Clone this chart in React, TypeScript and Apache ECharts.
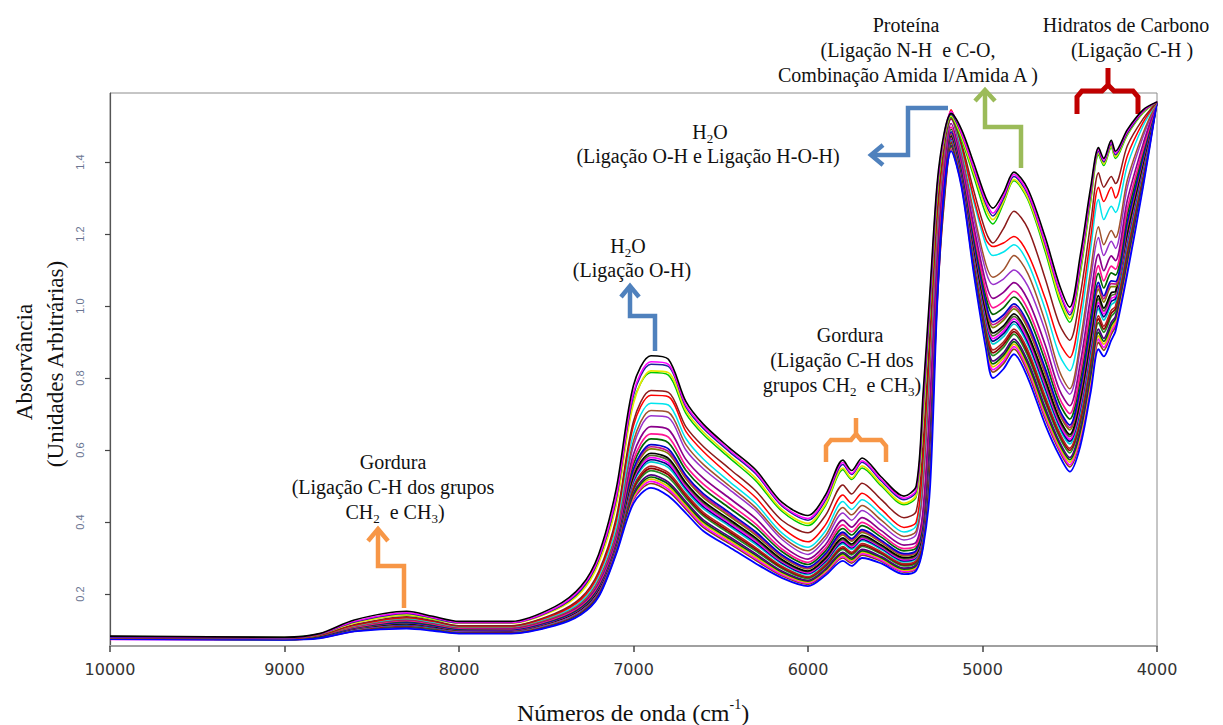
import React, { useEffect, useRef } from 'react';
import * as echarts from 'echarts';

const WAVENUMBERS = [10000, 9000, 8800, 8600, 8300, 8150, 8000, 7700, 7450, 7300, 7200, 7100, 7000, 6900, 6800, 6700, 6600, 6450, 6300, 6150, 6000, 5900, 5800, 5750, 5690, 5580, 5450, 5380, 5340, 5300, 5260, 5220, 5180, 5120, 5050, 4980, 4940, 4880, 4820, 4740, 4640, 4560, 4500, 4440, 4380, 4335, 4305, 4262, 4238, 4170, 4080, 4000];

const Y_TICKS = [0.2, 0.4, 0.6, 0.8, 1.0, 1.2, 1.4];

// Upper, well separated spectra
const SPEC_BLACK = [0.083, 0.080, 0.090, 0.128, 0.152, 0.138, 0.124, 0.124, 0.165, 0.222, 0.310, 0.490, 0.780, 0.862, 0.852, 0.735, 0.672, 0.606, 0.545, 0.455, 0.418, 0.475, 0.572, 0.543, 0.578, 0.525, 0.472, 0.500, 0.760, 1.050, 1.340, 1.480, 1.535, 1.490, 1.397, 1.300, 1.272, 1.315, 1.372, 1.325, 1.190, 1.060, 0.997, 1.140, 1.330, 1.440, 1.410, 1.460, 1.430, 1.490, 1.545, 1.567];
const SPEC_MAGENTA = [0.082, 0.079, 0.089, 0.124, 0.148, 0.135, 0.121, 0.121, 0.160, 0.216, 0.300, 0.470, 0.760, 0.845, 0.838, 0.725, 0.665, 0.600, 0.538, 0.448, 0.410, 0.465, 0.565, 0.535, 0.570, 0.518, 0.466, 0.490, 0.740, 1.030, 1.330, 1.475, 1.540, 1.480, 1.385, 1.290, 1.258, 1.305, 1.365, 1.315, 1.175, 1.045, 0.982, 1.120, 1.320, 1.435, 1.405, 1.455, 1.425, 1.485, 1.542, 1.567];
const SPEC_NAVY = [0.080, 0.078, 0.088, 0.122, 0.146, 0.133, 0.120, 0.120, 0.158, 0.212, 0.296, 0.462, 0.752, 0.838, 0.832, 0.720, 0.660, 0.595, 0.534, 0.445, 0.405, 0.460, 0.560, 0.532, 0.566, 0.514, 0.462, 0.485, 0.720, 1.010, 1.320, 1.470, 1.532, 1.478, 1.380, 1.282, 1.250, 1.298, 1.360, 1.310, 1.170, 1.040, 0.975, 1.110, 1.310, 1.430, 1.400, 1.450, 1.420, 1.480, 1.540, 1.567];
const SPEC_YELLOW = [0.081, 0.079, 0.088, 0.120, 0.143, 0.131, 0.119, 0.119, 0.155, 0.205, 0.285, 0.445, 0.730, 0.820, 0.815, 0.710, 0.650, 0.585, 0.522, 0.435, 0.396, 0.450, 0.550, 0.522, 0.556, 0.505, 0.452, 0.475, 0.700, 1.000, 1.310, 1.465, 1.528, 1.470, 1.370, 1.270, 1.240, 1.290, 1.352, 1.300, 1.160, 1.025, 0.965, 1.100, 1.300, 1.425, 1.395, 1.445, 1.415, 1.478, 1.538, 1.567];
const SPEC_GREEN = [0.082, 0.080, 0.089, 0.121, 0.142, 0.130, 0.120, 0.121, 0.157, 0.208, 0.290, 0.450, 0.735, 0.815, 0.808, 0.702, 0.643, 0.578, 0.515, 0.430, 0.390, 0.445, 0.545, 0.518, 0.550, 0.500, 0.448, 0.470, 0.690, 0.990, 1.300, 1.460, 1.525, 1.462, 1.360, 1.255, 1.228, 1.285, 1.348, 1.295, 1.150, 1.015, 0.955, 1.090, 1.290, 1.420, 1.390, 1.440, 1.410, 1.475, 1.536, 1.567];
const SPEC_BROWN = [0.079, 0.077, 0.086, 0.115, 0.137, 0.126, 0.112, 0.112, 0.146, 0.190, 0.262, 0.410, 0.680, 0.765, 0.760, 0.665, 0.610, 0.548, 0.487, 0.405, 0.370, 0.418, 0.503, 0.478, 0.508, 0.462, 0.412, 0.430, 0.620, 0.940, 1.270, 1.445, 1.520, 1.450, 1.320, 1.205, 1.175, 1.215, 1.263, 1.215, 1.075, 0.950, 0.905, 1.030, 1.230, 1.370, 1.330, 1.360, 1.340, 1.445, 1.520, 1.567];
const SPEC_RED = [0.080, 0.078, 0.087, 0.113, 0.134, 0.124, 0.111, 0.111, 0.143, 0.185, 0.255, 0.400, 0.668, 0.752, 0.748, 0.652, 0.596, 0.530, 0.468, 0.385, 0.345, 0.392, 0.475, 0.452, 0.480, 0.435, 0.385, 0.400, 0.580, 0.910, 1.250, 1.440, 1.545, 1.445, 1.300, 1.185, 1.165, 1.175, 1.193, 1.145, 1.020, 0.900, 0.857, 0.985, 1.190, 1.330, 1.290, 1.330, 1.300, 1.417, 1.510, 1.567];
const SPEC_CYAN = [0.081, 0.079, 0.088, 0.112, 0.132, 0.122, 0.110, 0.110, 0.140, 0.180, 0.248, 0.385, 0.645, 0.730, 0.725, 0.632, 0.575, 0.512, 0.452, 0.370, 0.330, 0.375, 0.457, 0.435, 0.462, 0.420, 0.372, 0.390, 0.560, 0.890, 1.240, 1.435, 1.530, 1.435, 1.290, 1.170, 1.140, 1.150, 1.170, 1.120, 0.990, 0.865, 0.820, 0.950, 1.160, 1.296, 1.240, 1.277, 1.260, 1.390, 1.500, 1.567];
const SPEC_SIENNA = [0.078, 0.076, 0.085, 0.110, 0.130, 0.120, 0.108, 0.108, 0.137, 0.175, 0.240, 0.372, 0.625, 0.710, 0.705, 0.615, 0.560, 0.500, 0.440, 0.360, 0.320, 0.362, 0.440, 0.420, 0.446, 0.405, 0.360, 0.375, 0.520, 0.850, 1.210, 1.420, 1.525, 1.425, 1.260, 1.115, 1.080, 1.100, 1.140, 1.090, 0.955, 0.820, 0.770, 0.900, 1.100, 1.220, 1.170, 1.210, 1.190, 1.350, 1.480, 1.567];
const SPEC_PURPLE = [0.079, 0.077, 0.086, 0.112, 0.133, 0.123, 0.110, 0.109, 0.139, 0.176, 0.238, 0.368, 0.612, 0.695, 0.690, 0.600, 0.548, 0.490, 0.432, 0.352, 0.310, 0.352, 0.425, 0.405, 0.432, 0.392, 0.350, 0.365, 0.500, 0.830, 1.195, 1.410, 1.520, 1.415, 1.245, 1.095, 1.060, 1.075, 1.100, 1.055, 0.930, 0.800, 0.755, 0.880, 1.075, 1.190, 1.140, 1.180, 1.160, 1.330, 1.470, 1.567];

// Dense cluster of spectra
const SPEC_C01 = [0.078, 0.076, 0.085, 0.110, 0.129, 0.119, 0.107, 0.106, 0.135, 0.171, 0.231, 0.359, 0.588, 0.665, 0.657, 0.574, 0.522, 0.466, 0.410, 0.336, 0.297, 0.337, 0.405, 0.386, 0.412, 0.376, 0.336, 0.344, 0.436, 0.746, 1.140, 1.382, 1.507, 1.402, 1.222, 1.063, 1.021, 1.038, 1.065, 1.017, 0.891, 0.768, 0.723, 0.840, 1.028, 1.144, 1.098, 1.139, 1.126, 1.294, 1.449, 1.567];
const SPEC_C02 = [0.080, 0.077, 0.086, 0.108, 0.126, 0.117, 0.105, 0.104, 0.132, 0.168, 0.226, 0.353, 0.572, 0.645, 0.636, 0.556, 0.505, 0.450, 0.395, 0.325, 0.288, 0.327, 0.392, 0.373, 0.399, 0.365, 0.326, 0.335, 0.424, 0.722, 1.124, 1.370, 1.497, 1.394, 1.206, 1.041, 0.995, 1.012, 1.041, 0.991, 0.865, 0.746, 0.701, 0.812, 0.996, 1.112, 1.070, 1.111, 1.102, 1.270, 1.435, 1.567];
const SPEC_C03 = [0.077, 0.076, 0.083, 0.107, 0.124, 0.115, 0.104, 0.103, 0.130, 0.165, 0.223, 0.349, 0.561, 0.631, 0.620, 0.544, 0.493, 0.439, 0.385, 0.318, 0.282, 0.320, 0.382, 0.364, 0.390, 0.358, 0.320, 0.328, 0.415, 0.706, 1.112, 1.362, 1.491, 1.388, 1.195, 1.026, 0.977, 0.995, 1.025, 0.973, 0.847, 0.731, 0.686, 0.794, 0.974, 1.091, 1.050, 1.092, 1.086, 1.253, 1.425, 1.567];
const SPEC_C04 = [0.079, 0.075, 0.082, 0.106, 0.121, 0.113, 0.102, 0.101, 0.128, 0.163, 0.220, 0.345, 0.548, 0.615, 0.603, 0.530, 0.479, 0.426, 0.373, 0.309, 0.275, 0.312, 0.372, 0.354, 0.379, 0.349, 0.312, 0.321, 0.405, 0.688, 1.099, 1.352, 1.484, 1.381, 1.183, 1.009, 0.956, 0.975, 1.006, 0.953, 0.826, 0.714, 0.669, 0.772, 0.949, 1.066, 1.028, 1.070, 1.068, 1.234, 1.414, 1.567];
const SPEC_C05 = [0.078, 0.076, 0.083, 0.105, 0.121, 0.112, 0.102, 0.100, 0.127, 0.162, 0.218, 0.343, 0.543, 0.609, 0.596, 0.525, 0.473, 0.421, 0.368, 0.306, 0.272, 0.309, 0.368, 0.350, 0.375, 0.346, 0.309, 0.318, 0.401, 0.681, 1.094, 1.348, 1.481, 1.378, 1.178, 1.002, 0.948, 0.967, 0.999, 0.945, 0.818, 0.707, 0.662, 0.764, 0.940, 1.056, 1.020, 1.062, 1.061, 1.227, 1.410, 1.567];
const SPEC_C06 = [0.077, 0.075, 0.082, 0.105, 0.120, 0.112, 0.101, 0.100, 0.127, 0.161, 0.217, 0.341, 0.538, 0.603, 0.590, 0.520, 0.468, 0.416, 0.364, 0.303, 0.270, 0.306, 0.364, 0.347, 0.371, 0.343, 0.306, 0.315, 0.398, 0.674, 1.089, 1.345, 1.479, 1.376, 1.174, 0.996, 0.940, 0.960, 0.992, 0.938, 0.810, 0.701, 0.656, 0.756, 0.930, 1.047, 1.011, 1.054, 1.054, 1.220, 1.406, 1.567];
const SPEC_C07 = [0.078, 0.075, 0.081, 0.104, 0.118, 0.110, 0.100, 0.099, 0.125, 0.159, 0.214, 0.338, 0.529, 0.591, 0.577, 0.509, 0.458, 0.407, 0.356, 0.296, 0.264, 0.300, 0.356, 0.339, 0.363, 0.336, 0.301, 0.310, 0.390, 0.660, 1.079, 1.338, 1.473, 1.371, 1.164, 0.983, 0.925, 0.945, 0.978, 0.922, 0.795, 0.688, 0.643, 0.740, 0.911, 1.029, 0.994, 1.037, 1.040, 1.205, 1.397, 1.567];
const SPEC_C08 = [0.076, 0.074, 0.081, 0.104, 0.117, 0.110, 0.099, 0.098, 0.124, 0.158, 0.213, 0.336, 0.524, 0.585, 0.571, 0.504, 0.453, 0.402, 0.352, 0.293, 0.262, 0.297, 0.352, 0.335, 0.359, 0.333, 0.298, 0.307, 0.387, 0.654, 1.074, 1.334, 1.471, 1.369, 1.160, 0.977, 0.917, 0.938, 0.971, 0.915, 0.787, 0.682, 0.637, 0.732, 0.902, 1.020, 0.986, 1.029, 1.034, 1.198, 1.393, 1.567];
const SPEC_C09 = [0.077, 0.076, 0.081, 0.103, 0.116, 0.109, 0.098, 0.098, 0.123, 0.157, 0.211, 0.334, 0.519, 0.579, 0.564, 0.499, 0.448, 0.397, 0.347, 0.290, 0.259, 0.294, 0.348, 0.331, 0.355, 0.330, 0.295, 0.304, 0.383, 0.647, 1.069, 1.330, 1.468, 1.366, 1.155, 0.970, 0.909, 0.930, 0.964, 0.907, 0.779, 0.675, 0.630, 0.723, 0.892, 1.010, 0.978, 1.021, 1.027, 1.191, 1.389, 1.567];
const SPEC_C10 = [0.077, 0.075, 0.081, 0.103, 0.115, 0.108, 0.098, 0.097, 0.123, 0.156, 0.210, 0.333, 0.515, 0.573, 0.558, 0.494, 0.443, 0.393, 0.343, 0.287, 0.257, 0.291, 0.344, 0.328, 0.352, 0.327, 0.292, 0.302, 0.379, 0.640, 1.064, 1.327, 1.465, 1.364, 1.151, 0.964, 0.902, 0.923, 0.957, 0.900, 0.772, 0.669, 0.624, 0.715, 0.883, 1.001, 0.970, 1.013, 1.020, 1.184, 1.385, 1.567];
const SPEC_C11 = [0.076, 0.074, 0.080, 0.102, 0.114, 0.107, 0.097, 0.097, 0.122, 0.155, 0.209, 0.331, 0.510, 0.567, 0.551, 0.488, 0.437, 0.388, 0.338, 0.284, 0.254, 0.288, 0.340, 0.324, 0.348, 0.324, 0.289, 0.299, 0.375, 0.633, 1.059, 1.323, 1.462, 1.361, 1.146, 0.957, 0.894, 0.915, 0.950, 0.892, 0.764, 0.662, 0.617, 0.707, 0.873, 0.992, 0.961, 1.004, 1.013, 1.176, 1.380, 1.567];
const SPEC_C12 = [0.076, 0.074, 0.080, 0.101, 0.113, 0.106, 0.096, 0.096, 0.120, 0.153, 0.206, 0.327, 0.500, 0.555, 0.537, 0.478, 0.427, 0.378, 0.329, 0.277, 0.248, 0.282, 0.332, 0.316, 0.340, 0.317, 0.284, 0.293, 0.368, 0.619, 1.050, 1.316, 1.457, 1.356, 1.137, 0.945, 0.878, 0.900, 0.936, 0.877, 0.748, 0.650, 0.605, 0.691, 0.855, 0.973, 0.944, 0.988, 0.999, 1.162, 1.372, 1.567];
const SPEC_C13 = [0.076, 0.075, 0.080, 0.100, 0.112, 0.105, 0.096, 0.095, 0.120, 0.152, 0.205, 0.326, 0.495, 0.549, 0.531, 0.473, 0.422, 0.373, 0.325, 0.274, 0.246, 0.279, 0.328, 0.313, 0.336, 0.314, 0.281, 0.290, 0.364, 0.612, 1.045, 1.312, 1.455, 1.353, 1.132, 0.939, 0.870, 0.893, 0.929, 0.869, 0.740, 0.644, 0.599, 0.683, 0.846, 0.964, 0.936, 0.980, 0.992, 1.155, 1.368, 1.567];
const SPEC_C14 = [0.077, 0.074, 0.079, 0.100, 0.111, 0.104, 0.095, 0.095, 0.119, 0.151, 0.203, 0.324, 0.490, 0.543, 0.524, 0.467, 0.417, 0.368, 0.320, 0.271, 0.243, 0.276, 0.324, 0.309, 0.332, 0.311, 0.278, 0.287, 0.360, 0.605, 1.040, 1.309, 1.452, 1.350, 1.127, 0.932, 0.862, 0.885, 0.922, 0.861, 0.732, 0.637, 0.592, 0.675, 0.836, 0.954, 0.927, 0.971, 0.985, 1.148, 1.364, 1.567];
const SPEC_C15 = [0.076, 0.074, 0.079, 0.099, 0.109, 0.103, 0.094, 0.093, 0.117, 0.149, 0.200, 0.320, 0.481, 0.531, 0.511, 0.457, 0.406, 0.359, 0.312, 0.264, 0.238, 0.270, 0.316, 0.301, 0.324, 0.304, 0.272, 0.282, 0.353, 0.591, 1.030, 1.302, 1.446, 1.345, 1.118, 0.919, 0.847, 0.870, 0.908, 0.846, 0.717, 0.624, 0.579, 0.659, 0.817, 0.936, 0.910, 0.955, 0.971, 1.133, 1.355, 1.567];
const SPEC_C16 = [0.076, 0.074, 0.079, 0.099, 0.109, 0.102, 0.093, 0.093, 0.116, 0.148, 0.199, 0.319, 0.476, 0.525, 0.505, 0.452, 0.401, 0.354, 0.308, 0.261, 0.236, 0.267, 0.312, 0.297, 0.320, 0.301, 0.269, 0.279, 0.349, 0.585, 1.025, 1.298, 1.444, 1.343, 1.114, 0.913, 0.839, 0.863, 0.901, 0.839, 0.709, 0.618, 0.573, 0.651, 0.808, 0.927, 0.902, 0.947, 0.965, 1.126, 1.351, 1.567];
const SPEC_C17 = [0.075, 0.073, 0.078, 0.098, 0.108, 0.101, 0.092, 0.092, 0.115, 0.147, 0.198, 0.317, 0.471, 0.519, 0.498, 0.446, 0.396, 0.349, 0.303, 0.258, 0.233, 0.264, 0.308, 0.293, 0.316, 0.298, 0.266, 0.276, 0.345, 0.578, 1.020, 1.294, 1.441, 1.340, 1.109, 0.906, 0.831, 0.855, 0.894, 0.831, 0.701, 0.611, 0.566, 0.642, 0.798, 0.917, 0.894, 0.938, 0.958, 1.119, 1.347, 1.567];
const SPEC_C18 = [0.074, 0.073, 0.078, 0.097, 0.107, 0.100, 0.092, 0.091, 0.114, 0.146, 0.196, 0.315, 0.466, 0.513, 0.491, 0.441, 0.390, 0.344, 0.298, 0.254, 0.230, 0.261, 0.304, 0.290, 0.312, 0.294, 0.263, 0.273, 0.341, 0.571, 1.015, 1.290, 1.438, 1.337, 1.104, 0.899, 0.823, 0.847, 0.887, 0.823, 0.693, 0.604, 0.559, 0.634, 0.788, 0.908, 0.885, 0.930, 0.951, 1.111, 1.342, 1.567];
const SPEC_C19 = [0.075, 0.073, 0.078, 0.097, 0.106, 0.100, 0.091, 0.091, 0.114, 0.145, 0.195, 0.314, 0.462, 0.507, 0.485, 0.436, 0.385, 0.340, 0.294, 0.251, 0.227, 0.258, 0.300, 0.286, 0.308, 0.291, 0.261, 0.271, 0.338, 0.564, 1.010, 1.287, 1.435, 1.335, 1.099, 0.893, 0.816, 0.840, 0.880, 0.815, 0.686, 0.598, 0.553, 0.626, 0.779, 0.899, 0.877, 0.922, 0.944, 1.104, 1.338, 1.567];
const SPEC_BLUE = [0.075, 0.073, 0.077, 0.096, 0.104, 0.098, 0.090, 0.090, 0.112, 0.143, 0.192, 0.310, 0.452, 0.495, 0.472, 0.425, 0.375, 0.330, 0.285, 0.245, 0.222, 0.252, 0.292, 0.278, 0.300, 0.285, 0.255, 0.265, 0.330, 0.500, 1.000, 1.320, 1.430, 1.330, 1.090, 0.880, 0.800, 0.825, 0.866, 0.800, 0.670, 0.585, 0.540, 0.610, 0.760, 0.880, 0.860, 0.905, 0.930, 1.090, 1.330, 1.567];

// drawing order: cluster first, then outline and upper spectra on top
const SPECTRA: { values: number[]; color: string; width: number }[] = [
  { values: SPEC_C19, color: '#8b4513', width: 1.7 },
  { values: SPEC_C18, color: '#ff00ff', width: 1.7 },
  { values: SPEC_C17, color: '#e6c200', width: 1.7 },
  { values: SPEC_C16, color: '#006400', width: 1.7 },
  { values: SPEC_C15, color: '#4b0082', width: 1.7 },
  { values: SPEC_C14, color: '#228b22', width: 1.7 },
  { values: SPEC_C13, color: '#8b0000', width: 1.7 },
  { values: SPEC_C12, color: '#b22222', width: 1.7 },
  { values: SPEC_C11, color: '#00ced1', width: 1.7 },
  { values: SPEC_C10, color: '#000080', width: 1.7 },
  { values: SPEC_C09, color: '#ff00ff', width: 1.7 },
  { values: SPEC_C08, color: '#556b2f', width: 1.7 },
  { values: SPEC_C07, color: '#000000', width: 1.7 },
  { values: SPEC_C06, color: '#808000', width: 1.7 },
  { values: SPEC_C05, color: '#c71585', width: 1.7 },
  { values: SPEC_C04, color: '#0000cd', width: 1.7 },
  { values: SPEC_C03, color: '#006400', width: 1.7 },
  { values: SPEC_C02, color: '#ff1493', width: 1.7 },
  { values: SPEC_C01, color: '#8b008b', width: 1.7 },
  { values: SPEC_BLUE, color: '#0000ff', width: 1.8 },
  { values: SPEC_PURPLE, color: '#9932cc', width: 1.5 },
  { values: SPEC_SIENNA, color: '#a0522d', width: 1.5 },
  { values: SPEC_CYAN, color: '#00e5ee', width: 1.5 },
  { values: SPEC_RED, color: '#ff0000', width: 1.5 },
  { values: SPEC_BROWN, color: '#8b1a1a', width: 1.5 },
  { values: SPEC_GREEN, color: '#00c800', width: 1.5 },
  { values: SPEC_YELLOW, color: '#e8e800', width: 1.7 },
  { values: SPEC_NAVY, color: '#20209a', width: 1.5 },
  { values: SPEC_MAGENTA, color: '#ff00ff', width: 1.5 },
  { values: SPEC_BLACK, color: '#000000', width: 1.6 },
];

const SERIF = '"Liberation Serif", "Times New Roman", serif';
const RICH = {
  sub: { fontSize: 13, lineHeight: 13, verticalAlign: 'bottom', fontFamily: SERIF, fill: '#111' },
  sup: { fontSize: 14, lineHeight: 18, verticalAlign: 'top', fontFamily: SERIF, fill: '#111' },
};

function label(text: string, x: number, y: number, fontSize = 20, rotation = 0) {
  return {
    type: 'text',
    x,
    y,
    rotation,
    silent: true,
    style: {
      text,
      fontFamily: SERIF,
      fontSize,
      fill: '#111',
      align: 'center',
      verticalAlign: 'middle',
      lineHeight: Math.round(fontSize * 1.3),
      rich: RICH,
    },
  };
}

function stroke(points: number[][], color: string, lineWidth: number) {
  return {
    type: 'polyline',
    silent: true,
    shape: { points },
    style: { stroke: color, lineWidth, fill: 'none', lineJoin: 'miter', lineCap: 'butt' },
  };
}

const ORANGE = '#F79646';
const BLUE = '#4F81BD';
const GREEN = '#9BBB59';
const DARKRED = '#C00000';

export default function App() {
  const ref = useRef<HTMLDivElement>(null);

  useEffect(() => {
    if (!ref.current) return;
    const chart = echarts.init(ref.current, null, { renderer: 'svg' });
    const series = SPECTRA.map((s, i) => ({
      type: 'line',
      name: 'amostra ' + (i + 1),
      data: WAVENUMBERS.map((w, k) => [w, s.values[k]]),
      showSymbol: false,
      smooth: 0.3,
      silent: true,
      lineStyle: { color: s.color, width: s.width },
    }));

    chart.setOption({
      animation: false,
      backgroundColor: '#ffffff',
      grid: {
        left: 110,
        right: 66,
        top: 93,
        bottom: 79,
        show: true,
        borderColor: '#8c8c8c',
        borderWidth: 1,
        backgroundColor: 'transparent',
      },
      xAxis: {
        type: 'value',
        min: 4000,
        max: 10000,
        interval: 1000,
        inverse: true,
        axisLine: { show: true, lineStyle: { color: '#a0a0a0', width: 2 } },
        axisTick: { show: true, length: 6, lineStyle: { color: '#444', width: 1.5 } },
        axisLabel: {
          margin: 15,
          fontFamily: '"DejaVu Sans", sans-serif',
          fontSize: 16,
          color: '#333',
          formatter: (v: number) => String(v),
        },
        splitLine: { show: false },
      },
      yAxis: {
        type: 'value',
        min: 0.0556,
        max: 1.5917,
        axisLine: { show: true, lineStyle: { color: '#555', width: 1.2 } },
        axisTick: { show: true, length: 5, customValues: Y_TICKS, lineStyle: { color: '#444', width: 1.2 } },
        axisLabel: {
          customValues: Y_TICKS,
          rotate: 90,
          margin: 25,
          fontFamily: '"Liberation Sans", Arial, sans-serif',
          fontSize: 11,
          color: '#6a7592',
          formatter: (v: number) => v.toFixed(1),
        },
        splitLine: { show: false },
      },
      series,
      graphic: [
        // axis titles
        label('Absorvância', 24, 362, 23, Math.PI / 2),
        label('(Unidades Arbitrárias)', 55, 364, 23, Math.PI / 2),
        label('Números de onda (cm{sup|-1})', 633, 713, 24),
        // annotations
        label('Proteína', 906, 25),
        label('(Ligação N-H  e C-O,', 908, 50),
        label('Combinação Amida I/Amida A )', 908, 75),
        label('Hidratos de Carbono', 1126, 25),
        label('(Ligação C-H )', 1132, 50),
        label('H{sub|2}O', 710, 132),
        label('(Ligação O-H e Ligação H-O-H)', 708, 156),
        label('H{sub|2}O', 628, 246),
        label('(Ligação O-H)', 632, 270),
        label('Gordura', 850, 335),
        label('(Ligação C-H dos', 842, 360),
        label('grupos CH{sub|2}  e CH{sub|3})', 842, 385),
        label('Gordura', 393, 462),
        label('(Ligação C-H dos grupos', 393, 487),
        label('CH{sub|2}  e CH{sub|3})', 395, 512),
        // arrows
        stroke([[404, 608], [404, 566], [378, 566], [378, 530]], ORANGE, 4.5),
        stroke([[368, 541], [378, 529], [388, 541]], ORANGE, 4.5),
        stroke([[655, 351], [655, 316], [630, 316], [630, 288]], BLUE, 4.5),
        stroke([[621, 297], [630, 286], [639, 297]], BLUE, 4.5),
        stroke([[948, 108], [908, 108], [908, 155], [873, 155]], BLUE, 4.5),
        stroke([[883, 145], [871, 155], [883, 165]], BLUE, 4.5),
        stroke([[1021, 168], [1021, 127], [985, 127], [985, 92]], GREEN, 4.5),
        stroke([[975, 101], [985, 90], [995, 101]], GREEN, 4.5),
        // braces
        stroke([[1077, 114], [1077, 97], [1082, 91], [1102, 91], [1108, 85], [1108, 68]], DARKRED, 5),
        stroke([[1108, 85], [1114, 91], [1133, 91], [1138, 97], [1138, 114]], DARKRED, 5),
        stroke([[826, 462], [826, 446], [831, 440], [851, 440], [856, 434], [856, 418]], ORANGE, 4.5),
        stroke([[856, 434], [861, 440], [881, 440], [886, 446], [886, 462]], ORANGE, 4.5),
      ],
    });

    return () => chart.dispose();
  }, []);

  return (
    <div
      ref={ref}
      style={{ position: 'fixed', left: 0, top: 0, width: 1223, height: 725, background: '#ffffff' }}
    />
  );
}
